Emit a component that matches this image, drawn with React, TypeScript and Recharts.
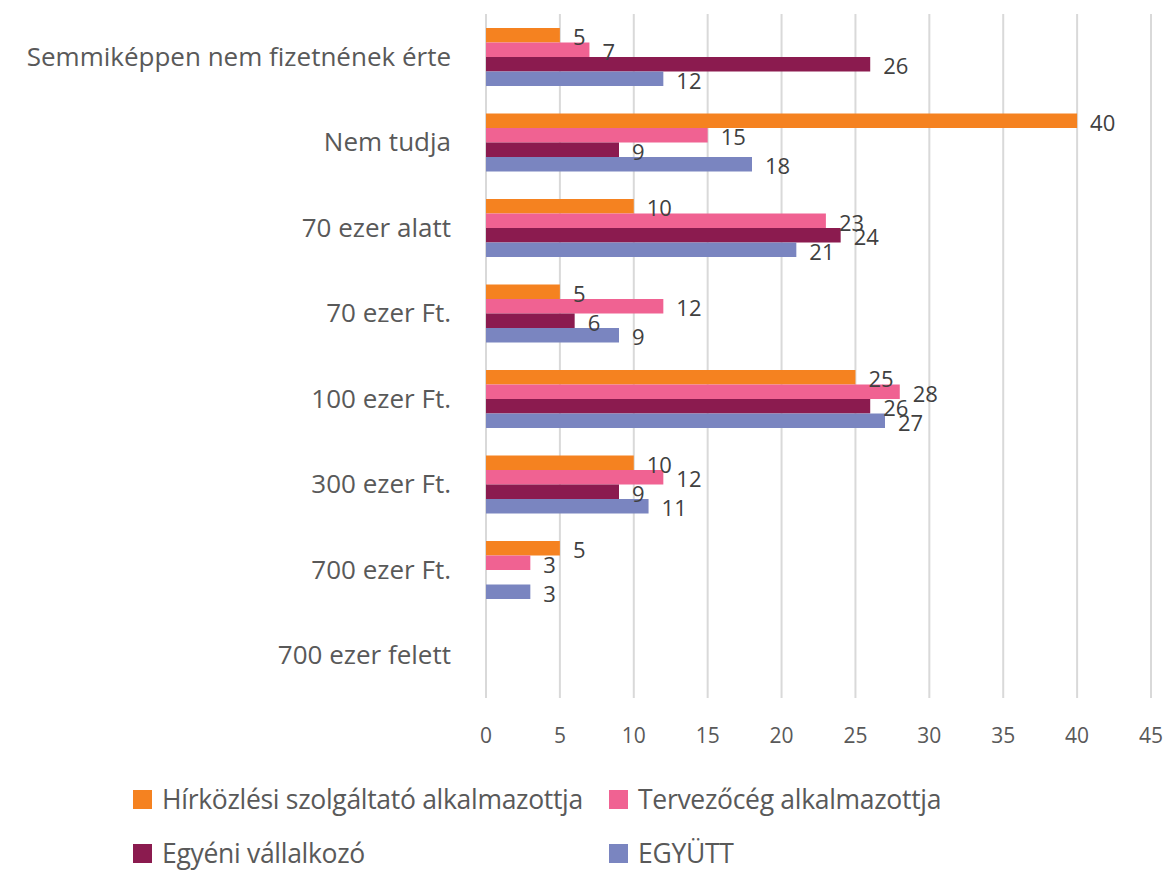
import React from 'react';
import { BarChart, Bar, XAxis, YAxis, CartesianGrid, LabelList } from 'recharts';

const categories = [
  'Semmiképpen nem fizetnének érte',
  'Nem tudja',
  '70 ezer alatt',
  '70 ezer Ft.',
  '100 ezer Ft.',
  '300 ezer Ft.',
  '700 ezer Ft.',
  '700 ezer felett',
];

const seriesNames = [
  'Hírközlési szolgáltató alkalmazottja',
  'Tervezőcég alkalmazottja',
  'Egyéni vállalkozó',
  'EGYÜTT',
];

const seriesColors = ['#F58220', '#F06292', '#8B1B4F', '#7A85C0'];

const hirkozlesi = [5, 40, 10, 5, 25, 10, 5, null];
const tervezoceg = [7, 15, 23, 12, 28, 12, 3, null];
const egyeni = [26, 9, 24, 6, 26, 9, null, null];
const egyutt = [12, 18, 21, 9, 27, 11, 3, null];

const xTicks = [0, 5, 10, 15, 20, 25, 30, 35, 40, 45];

const seriesValues = [hirkozlesi, tervezoceg, egyeni, egyutt];
const keys = ['s0', 's1', 's2', 's3'];

const data = categories.map((name, i) => {
  const row: any = { name };
  seriesValues.forEach((vals, j) => {
    row[keys[j]] = vals[i];
  });
  return row;
});

const FONT = '"Open Sans", Lato, sans-serif';

const renderLabel = (props: any) => {
  const { x, y, width, height, value } = props;
  if (value === null || value === undefined) return null;
  return (
    <text
      x={Number(x) + Number(width) + 13}
      y={Number(y) + Number(height) / 2 + 1}
      dominantBaseline="central"
      fill="#404040"
      fontSize={22}
      fontFamily={FONT}
    >
      {value}
    </text>
  );
};

export default function App() {
  return (
    <div style={{ position: 'fixed', left: 0, top: 0, width: 1165, height: 873, fontFamily: FONT, background: '#fff' }}>
      <BarChart
        width={1165}
        height={770}
        data={data}
        layout="vertical"
        margin={{ top: 14, right: 14, bottom: 12, left: 0 }}
        barGap={0}
        barSize={14.5}
      >
        <CartesianGrid horizontal={false} stroke="#D9D9D9" strokeWidth={2} />
        <XAxis
          type="number"
          domain={[0, 45]}
          ticks={xTicks}
          axisLine={false}
          tickLine={false}
          tickSize={0}
          tickMargin={30}
          height={60}
          tick={{ fontSize: 21, fill: '#595959', fontFamily: FONT }}
          interval={0}
        />
        <YAxis
          type="category"
          dataKey="name"
          width={486}
          axisLine={false}
          tickLine={false}
          tickSize={0}
          tickMargin={35}
          interval={0}
          tick={{ fontSize: 26, fill: '#595959', fontFamily: FONT }}
        />
        {keys.map((k, j) => (
          <Bar key={k} dataKey={k} name={seriesNames[j]} fill={seriesColors[j]} isAnimationActive={false}>
            <LabelList dataKey={k} content={renderLabel} />
          </Bar>
        ))}
      </BarChart>
      {seriesNames.map((name, i) => {
        const col = i % 2;
        const row = Math.floor(i / 2);
        const left = col === 0 ? 133 : 609;
        const top = row === 0 ? 799 : 853;
        return (
          <div
            key={name}
            style={{
              position: 'absolute',
              left,
              top: top - 18,
              height: 36,
              display: 'flex',
              alignItems: 'center',
              whiteSpace: 'nowrap',
            }}
          >
            <span style={{ display: 'inline-block', width: 19, height: 19, background: seriesColors[i], marginRight: 10 }} />
            <span style={{ fontSize: 26.5, color: '#595959', fontFamily: FONT, letterSpacing: -0.3 }}>{name}</span>
          </div>
        );
      })}
    </div>
  );
}
